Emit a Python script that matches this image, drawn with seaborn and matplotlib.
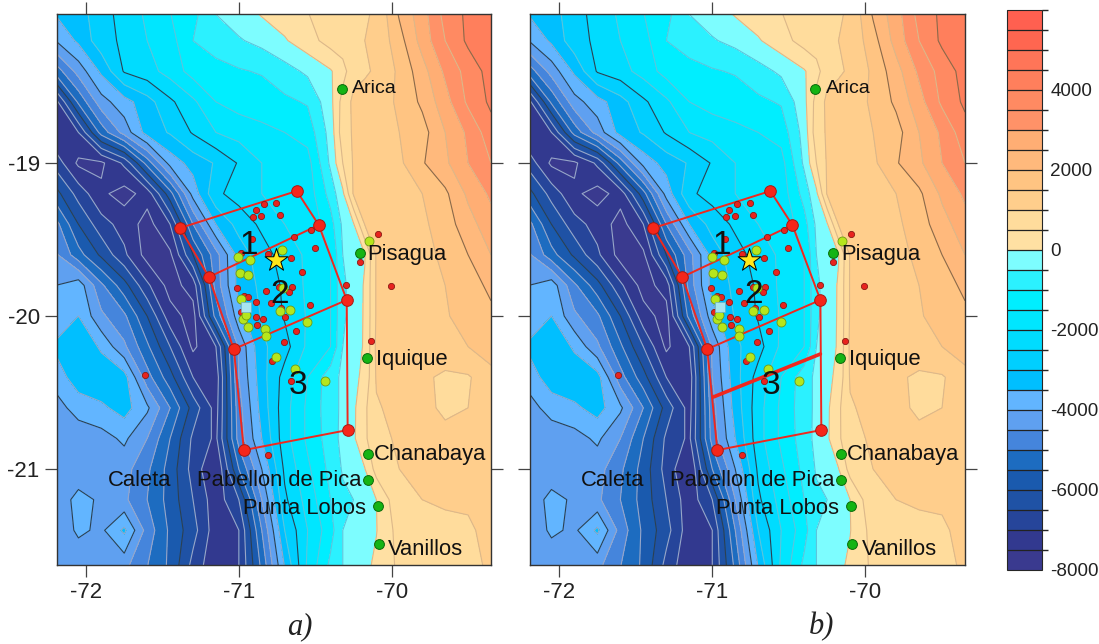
import numpy as np
import pandas as pd
import matplotlib
matplotlib.use("Agg")
import matplotlib.pyplot as plt
from matplotlib.colors import ListedColormap, BoundaryNorm
import seaborn as sns

# bathymetry / topography (metres)
grid_lon = [-72.2, -72.05, -71.9, -71.75, -71.6, -71.45, -71.3, -71.15, -71.0, -70.85,
            -70.7, -70.55, -70.4, -70.32, -70.25, -70.176, -70.1, -69.95, -69.8, -69.65, -69.5, -69.35]
grid_lat = [-18.0, -18.2, -18.4, -18.6, -18.8, -19.0, -19.2, -19.4, -19.6, -19.8,
            -20.0, -20.2, -20.4, -20.6, -20.8, -21.0, -21.2, -21.4, -21.65]
elev_rows = [
    [-3400, -3200, -2700, -2300, -1900, -1500, -1200, -450, -200, 100, 300, 500, 700, 800, 850, 950, 1050, 2100, 2800, 3700, 4100, 4400],
    [-4000, -3400, -2700, -2400, -2000, -1700, -1000, -800, -550, -350, -50, 300, 700, 800, 900, 1000, 1100, 1800, 2700, 3500, 4100, 4300],
    [-5300, -4300, -3400, -2450, -2200, -1800, -1300, -1150, -1050, -950, -700, -400, -50, 300, 850, 950, 1050, 1600, 2300, 3100, 3700, 4200],
    [-7200, -5400, -4200, -3700, -3200, -2600, -2100, -1500, -1300, -1300, -1100, -950, -150, 700, 1100, 1150, 1200, 1600, 2100, 2800, 3600, 4100],
    [-7500, -7000, -5300, -4300, -3300, -2950, -2450, -2000, -1800, -1600, -1500, -1300, -300, 800, 1050, 1150, 1200, 1500, 1800, 2500, 3100, 3800],
    [-6700, -7600, -7600, -6900, -5300, -3800, -3300, -2950, -2450, -2000, -1800, -1700, -400, 500, 1050, 1120, 1200, 1400, 1950, 2400, 3000, 3500],
    [-5800, -6700, -7400, -7700, -7300, -5700, -3800, -2600, -2300, -2000, -1900, -1800, -800, -100, 1050, 1080, 1100, 1300, 1500, 1900, 2600, 3100],
    [-4800, -6000, -6800, -7200, -7700, -7000, -5000, -3500, -2800, -2400, -2000, -1900, -1200, -400, -50, 1020, 1050, 1200, 1400, 1750, 2300, 2800],
    [-4400, -5300, -6100, -6900, -7700, -7600, -6000, -4700, -3300, -2700, -2300, -1900, -1500, -500, -200, -30, 1050, 1200, 1350, 1600, 2000, 2500],
    [-4000, -3700, -4900, -5800, -6900, -7700, -7300, -4800, -3300, -2900, -2400, -1900, -1500, -600, -300, 50, 1050, 1150, 1300, 1500, 1800, 2100],
    [-3900, -3500, -4400, -4900, -6000, -7300, -7700, -5300, -3700, -2950, -2450, -1950, -1500, -600, -250, 50, 1050, 1150, 1300, 1450, 1700, 1900],
    [-3400, -3000, -3600, -4400, -5400, -6500, -7600, -7000, -4400, -3100, -2700, -1900, -1500, -500, -200, 50, 1100, 1200, 1300, 1350, 1500, 1800],
    [-3800, -3200, -3100, -3300, -4800, -5800, -7000, -7300, -4500, -3200, -2300, -1500, -700, -400, -150, 150, 1050, 1100, 1100, 900, 950, 1300],
    [-4200, -3800, -3600, -3300, -3900, -5000, -6200, -7200, -4700, -3300, -2200, -1400, -700, -400, -100, 400, 950, 1150, 1150, 900, 1000, 1300],
    [-4400, -4300, -4200, -3900, -4500, -5500, -6600, -7100, -4800, -3500, -2200, -1400, -750, -350, -80, 400, 900, 1050, 1100, 1150, 1200, 1250],
    [-4500, -4400, -4000, -4300, -4900, -5700, -6700, -7500, -5500, -4000, -2400, -1600, -850, -450, -200, -20, 700, 1000, 1100, 1100, 1150, 1200],
    [-4400, -3800, -4100, -4400, -5000, -5700, -6500, -7300, -6500, -4500, -2600, -1800, -1000, -600, -500, -250, 0, 900, 1000, 1050, 1050, 1150],
    [-4400, -3900, -4100, -3400, -4700, -5600, -6300, -7300, -7000, -5000, -3000, -2000, -1200, -500, -350, -150, -20, 700, 850, 900, 950, 1100],
    [-4400, -4400, -4400, -4400, -5000, -5600, -6700, -7400, -7000, -5400, -3500, -1900, -850, -500, -400, -100, 100, 600, 750, 800, 900, 1050],
]

levels = list(range(-8000, 6500, 500))
band_colors = ["#3a3a8f", "#32398f", "#26459a", "#1f52a5", "#1a5aae", "#1d6cc0", "#4585dc", "#5fa0f0",
               "#62b5ff", "#00bfff", "#00cfff", "#00dcff", "#00e6ff", "#00eeff", "#2bf1ff", "#7dfdff",
               "#ffe0a3", "#ffdc9c", "#ffce8c", "#ffc482", "#ffb97c", "#ffae74", "#ff9268", "#ff8a62",
               "#ff7f5c", "#ff7558", "#ff6650", "#ff6050"]
dark_levels = [-6000, -4000, -2500, 2000, 4000]

# rupture zone corners
corner_lon = [-71.386, -70.621, -70.477, -71.196, -70.294, -71.033, -70.288, -70.967]
corner_lat = [-19.425, -19.183, -19.405, -19.745, -19.895, -20.216, -20.745, -20.876]
seg_id = [0, 0, 0, 0, 0, 0, 0, 0, 0, 1, 1, 2, 2]
seg_corner = [0, 1, 2, 4, 6, 7, 5, 3, 0, 3, 2, 5, 4]
split_lon = [-70.993, -70.294]
split_lat = [-20.529, -20.248]

# aftershocks
small_lon = [-70.837, -70.756, -70.891, -70.908, -70.852, -70.732, -70.917, -70.641, -70.529, -70.503,
             -70.989, -70.808, -70.660, -70.584, -71.011, -70.824, -70.736, -70.654, -70.671, -70.969,
             -70.943, -70.891, -70.791, -70.536, -70.721, -70.987, -70.887, -70.839, -70.697, -70.880,
             -70.627, -70.706, -70.782, -70.662, -70.808, -70.296, -70.209, -70.092, -70.007, -70.135, -71.614]
small_lat = [-19.270, -19.261, -19.305, -19.351, -19.346, -19.338, -19.497, -19.482, -19.440, -19.556,
             -19.586, -19.597, -19.621, -19.715, -19.815, -19.837, -19.810, -19.810, -19.841, -19.869,
             -19.878, -19.906, -19.913, -19.928, -19.948, -19.974, -20.007, -20.018, -20.007, -20.061,
             -20.096, -20.168, -20.292, -20.427, -20.910, -19.797, -19.645, -19.462, -19.802, -20.161, -20.386]
big_lon = [-71.004, -70.924, -70.715, -70.993, -70.937, -70.985, -70.708, -70.734, -70.665, -70.972,
           -70.954, -70.939, -70.828, -70.824, -70.554, -70.754, -70.634, -70.436, -70.150]
big_lat = [-19.617, -19.636, -19.569, -19.719, -19.734, -19.889, -19.819, -19.969, -19.959, -20.018,
           -19.993, -20.074, -20.085, -20.131, -20.041, -20.270, -20.346, -20.427, -19.510]
square_lon = [-70.950]
square_lat = [-19.939]
star_lon = [-70.760]
star_lat = [-19.634]

# towns
town_lon = [-70.327, -70.209, -70.163, -70.157, -70.157, -70.092, -70.085]
town_lat = [-18.516, -19.588, -20.275, -20.902, -21.072, -21.242, -21.490]
label_names = ["Arica", "Pisagua", "Iquique", "Chanabaya", "Pabellon de Pica", "Punta Lobos", "Vanillos", "Caleta"]
label_lon = [-70.261, -70.157, -70.105, -70.118, -71.275, -70.974, -70.026, -71.856]
label_lat = [-18.516, -19.595, -20.281, -20.908, -21.078, -21.255, -21.523, -21.078]

zone_names = ["1", "2", "3"]
zone_lon = [-70.935, -70.732, -70.614]
zone_lat = [-19.542, -19.856, -20.457]

sns.set_theme(style="ticks")
plt.rcParams["font.family"] = ["Liberation Sans", "DejaVu Sans"]
plt.rcParams["axes.unicode_minus"] = False

W, H = 1099, 644
fig = plt.figure(figsize=(W / 100, H / 100), dpi=100)
ax_a = fig.add_axes([57 / W, 1 - 565 / H, 434 / W, 551 / H])
ax_b = fig.add_axes([530 / W, 1 - 565 / H, 435 / W, 551 / H])
cax = fig.add_axes([1007 / W, 1 - 570 / H, 35 / W, 560 / H])

cmap = ListedColormap(band_colors)
norm = BoundaryNorm(levels, cmap.N)
elev = np.array(elev_rows)

corners = pd.DataFrame({"lon": corner_lon, "lat": corner_lat})
segs = pd.DataFrame({"seg": seg_id, "lon": [corner_lon[i] for i in seg_corner],
                     "lat": [corner_lat[i] for i in seg_corner]})
small = pd.DataFrame({"lon": small_lon, "lat": small_lat})
big = pd.DataFrame({"lon": big_lon, "lat": big_lat})
towns = pd.DataFrame({"lon": town_lon, "lat": town_lat})
split = pd.DataFrame({"lon": split_lon, "lat": split_lat})

line_colors = []
for lev in levels:
    if lev in dark_levels:
        line_colors.append("#2c4052" if lev < 0 else "#8a6a4a")
    elif lev >= 0:
        line_colors.append("#dcb88a")
    elif lev > -3500:
        line_colors.append("#5cc4dc")
    else:
        line_colors.append("#98a6c8")

for ax in [ax_a, ax_b]:
    cf = ax.contourf(grid_lon, grid_lat, elev, levels=levels, cmap=cmap, norm=norm)
    ax.contour(grid_lon, grid_lat, elev, levels=levels, colors=line_colors, linewidths=0.8)

    sns.lineplot(data=segs, x="lon", y="lat", units="seg", estimator=None, sort=False,
                 color="#f0281e", linewidth=1.4, ax=ax, zorder=3)
    sns.scatterplot(data=small, x="lon", y="lat", s=20, color="#e8231e", edgecolor="#8a1a14",
                    linewidth=0.6, ax=ax, zorder=4)
    sns.scatterplot(data=big, x="lon", y="lat", s=42, color="#b5e61d", edgecolor="#6f9a14",
                    linewidth=0.6, ax=ax, zorder=4)
    ax.scatter(square_lon, square_lat, marker="s", s=50, color="#a8e4f0", edgecolor="#70b0c0",
               linewidth=0.5, zorder=4)
    sns.scatterplot(data=corners, x="lon", y="lat", s=70, color="#f5261a", edgecolor="#a81812",
                    linewidth=0.7, ax=ax, zorder=5)
    sns.scatterplot(data=towns, x="lon", y="lat", s=50, color="#14b414", edgecolor="#0a6a0a",
                    linewidth=0.7, ax=ax, zorder=5)
    ax.scatter(star_lon, star_lat, marker="*", s=300, color="#ffe81a", edgecolor="black",
               linewidth=0.7, zorder=6)

    for name, x, y in zip(label_names, label_lon, label_lat):
        ax.text(x, y, name, fontsize=14 if name == "Arica" else 15.8, color="#111111",
                ha="left", va="center", zorder=7)
    for name, x, y in zip(zone_names, zone_lon, zone_lat):
        ax.text(x, y, name, fontsize=24, color="#111111", ha="center", va="center", zorder=7)

    ax.set_xlim(-72.19, -69.35)
    ax.set_ylim(-21.627, -18.026)
    ax.set_xticks([-72, -71, -70])
    ax.set_yticks([-19, -20, -21])
    ax.tick_params(top=True, right=True, length=8.5, width=0.9, color="#444444",
                   labelsize=16, labelcolor="#222222", pad=4)
    ax.set_xlabel("")
    ax.set_ylabel("")
    for sp in ax.spines.values():
        sp.set_linewidth(1.0)
        sp.set_color("#333333")

ax_b.tick_params(labelleft=False)
sns.lineplot(data=split, x="lon", y="lat", estimator=None, sort=False, color="#f0281e",
             linewidth=2.6, ax=ax_b, zorder=3)
ax_b.set_xlabel("")
ax_b.set_ylabel("")

cb = fig.colorbar(cf, cax=cax, ticks=list(range(-8000, 6000, 2000)), drawedges=True)
cb.dividers.set_color("#222222")
cb.dividers.set_linewidth(0.9)
cb.outline.set_linewidth(0.8)
cb.ax.tick_params(length=0, labelsize=13.6, labelcolor="#222222", pad=6)

fig.text(300 / W, 1 - 627 / H, "a)", family="Liberation Serif", style="italic", fontsize=22,
         ha="center", va="center", color="#222222")
fig.text(822 / W, 1 - 627 / H, "b)", family="Liberation Serif", style="italic", fontsize=22,
         ha="center", va="center", color="#222222")

fig.savefig("out.png", dpi=100)
